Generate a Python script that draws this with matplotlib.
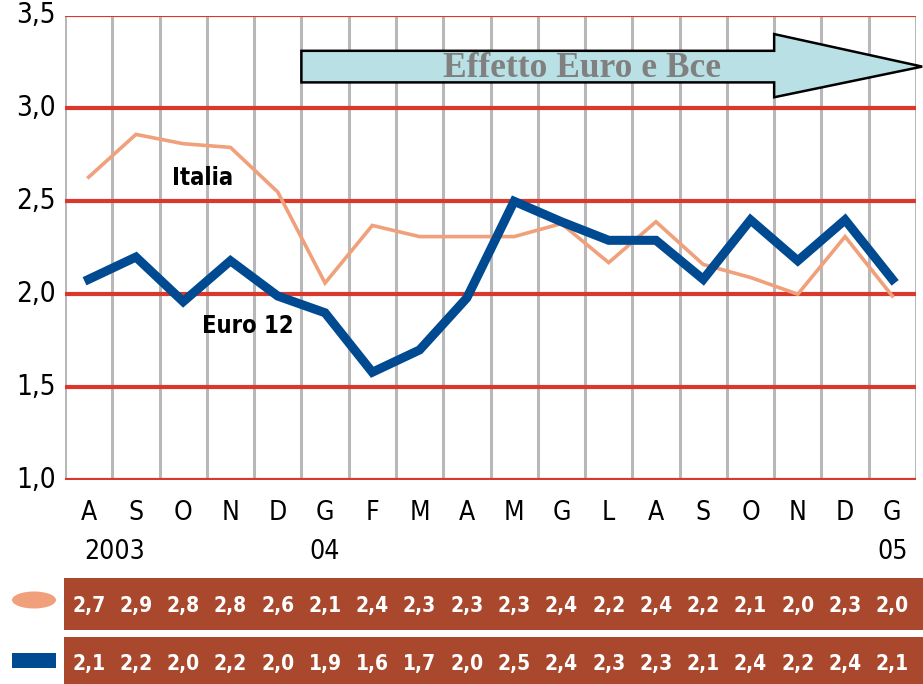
import matplotlib
matplotlib.use("Agg")
import matplotlib.pyplot as plt
from matplotlib.patches import Polygon, Rectangle, Ellipse
from matplotlib.transforms import blended_transform_factory

months = ["A", "S", "O", "N", "D", "G", "F", "M", "A", "M", "G", "L", "A", "S", "O", "N", "D", "G"]
years = {0: "2003", 5: "04", 17: "05"}
italia = [2.63, 2.86, 2.81, 2.79, 2.55, 2.06, 2.37, 2.31, 2.31, 2.31, 2.38, 2.17, 2.39, 2.16, 2.09, 2.00, 2.31, 1.99]
euro12 = [2.08, 2.20, 1.96, 2.18, 1.99, 1.90, 1.58, 1.70, 1.98, 2.50, 2.39, 2.29, 2.29, 2.08, 2.40, 2.18, 2.40, 2.08]
italia_lbl = ["2,7", "2,9", "2,8", "2,8", "2,6", "2,1", "2,4", "2,3", "2,3", "2,3", "2,4", "2,2", "2,4", "2,2", "2,1", "2,0", "2,3", "2,0"]
euro_lbl = ["2,1", "2,2", "2,0", "2,2", "2,0", "1,9", "1,6", "1,7", "2,0", "2,5", "2,4", "2,3", "2,3", "2,1", "2,4", "2,2", "2,4", "2,1"]
yticks = [1.0, 1.5, 2.0, 2.5, 3.0, 3.5]
ytick_lbl = ["1,0", "1,5", "2,0", "2,5", "3,0", "3,5"]

COND = dict(family="DejaVu Sans", fontstretch="condensed")

RED = "#d9392c"
GRAY = "#b8b8b8"
ORANGE = "#f0a07a"
BLUE = "#004a91"
BAND = "#a9482c"

W, H = 923, 684
fig = plt.figure(figsize=(W / 100, H / 100), dpi=100)
ax = fig.add_axes([65 / W, 1 - 480 / H, (916 - 65) / W, (480 - 15.5) / H])
n = len(months)
ax.set_xlim(0, n)
ax.set_ylim(1.0, 3.5)
for s in ax.spines.values():
    s.set_visible(False)
ax.set_xticks([])
ax.set_yticks([])

for i in range(n + 1):
    ax.axvline(i, ymin=0.005, ymax=0.995, color=GRAY, lw=2.2, zorder=1)
for y in yticks:
    ax.axhline(y, color=RED, lw=3, zorder=2)

x = [i + 0.5 for i in range(n)]
ax.plot(x, italia, color=ORANGE, lw=2.6, zorder=3, solid_joinstyle="miter")
ax.plot(x, euro12, color=BLUE, lw=6.5, zorder=4, solid_joinstyle="miter")

ax.text(2.92, 2.625, "Italia", fontsize=17, fontweight="bold", ha="center", va="center", zorder=5, **COND)
ax.text(3.87, 1.83, "Euro 12", fontsize=17, fontweight="bold", ha="center", va="center", zorder=5, **COND)

# arrow
arrow = Polygon([(5.0, 3.14), (15.0, 3.14), (15.0, 3.06), (18.13, 3.225), (15.0, 3.40), (15.0, 3.31), (5.0, 3.31)],
                closed=True, facecolor="#b9e0e4", edgecolor="black", lw=1.8, zorder=6, clip_on=False)
ax.add_patch(arrow)
ax.text(10.93, 3.215, "Effetto Euro e Bce", family="Liberation Serif", fontweight="bold", fontsize=25.5,
        color="#808080", ha="center", va="center", zorder=7)

# y tick labels
trans_y = blended_transform_factory(fig.transFigure, ax.transData)
for y, lbl in zip(yticks, ytick_lbl):
    fig.text(56 / W, y, lbl, transform=trans_y, ha="right", va="center", fontsize=20, **COND)

# month and year labels
trans_x = blended_transform_factory(ax.transData, fig.transFigure)
for xi, m in zip(x, months):
    fig.text(xi, 1 - 513 / H, m, transform=trans_x, ha="center", va="center", fontsize=19, **COND)
for i, yl in years.items():
    fig.text(i + 0.5 + (0.55 if i == 0 else 0), 1 - 552 / H, yl, transform=trans_x, ha="center", va="center",
             fontsize=19, **COND)

# table bands
fig.patches.append(Rectangle((64 / W, 1 - 630 / H), (W - 64) / W, 52 / H, transform=fig.transFigure,
                             facecolor=BAND, edgecolor="none"))
fig.patches.append(Rectangle((64 / W, 0), (W - 64) / W, 47 / H, transform=fig.transFigure,
                             facecolor=BAND, edgecolor="none"))
fig.patches.append(Ellipse((34 / W, 1 - 600 / H), 44 / W, 17 / H, transform=fig.transFigure,
                           facecolor=ORANGE, edgecolor="none"))
fig.patches.append(Rectangle((12 / W, 1 - 668 / H), 44 / W, 15 / H, transform=fig.transFigure,
                             facecolor=BLUE, edgecolor="none"))
for xi, a, b in zip(x, italia_lbl, euro_lbl):
    fig.text(xi, 1 - 606 / H, a, transform=trans_x, ha="center", va="center", fontsize=15,
             fontweight="bold", color="white", **COND)
    fig.text(xi, 1 - 664 / H, b, transform=trans_x, ha="center", va="center", fontsize=15,
             fontweight="bold", color="white", **COND)

fig.savefig("out.png", dpi=100)
